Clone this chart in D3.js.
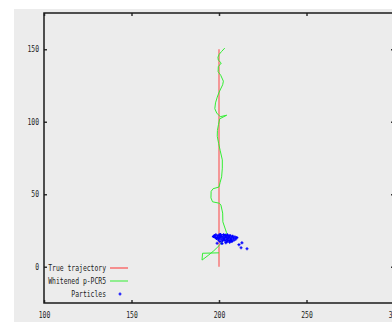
<!DOCTYPE html>
<html>
<head>
<meta charset="utf-8">
<script src="https://cdn.jsdelivr.net/npm/d3@7"></script>
<style>
  body { margin: 0; background: #fff; }
  svg { display: block; }
  text { font-family: "DejaVu Sans Mono", monospace; font-size: 8px; fill: #222; }
</style>
</head>
<body>
<svg id="chart"></svg>
<script>
var width = 392,
    height = 322;

// true trajectory
var trueX = [200, 200],
    trueY = [0, 150];

// whitened p-PCR5 estimate
var pcrX = [200, 190.6, 190.3, 193.8, 197, 200, 202.5, 204.3, 203.6, 202.2, 202.1, 201.1, 200.2, 196.3, 195.4,
            195.5, 196.6, 200, 200.6, 201.5, 201.9, 201.9, 200.7, 199.8, 199.0, 199.1, 199.7, 200.4, 204.4, 200.7,
            198.7, 197.6, 198, 199.0, 200.1, 202.1, 202.5, 201, 199.5, 199.6, 201.3, 199.6, 199.4, 200.1, 201.5, 203.3];
var pcrY = [9.6, 9.3, 4.6, 7.8, 11, 14.5, 18.5, 23.5, 26, 31, 37, 42.5, 43.8, 44.8, 47.5,
            52, 53.8, 55, 58, 62, 68, 73.7, 80, 85, 90, 94, 98, 102, 104.5, 103.5,
            106, 109, 113, 117, 120.5, 125.5, 128, 132, 134.5, 138, 140.5, 142.5, 144.5, 146.5, 148.5, 150.8];

// particles
var partX = [196.8, 197.3, 197.9, 198.2, 198.6, 199.0, 199.3, 199.7, 200.1, 200.4, 200.8, 201.2, 201.5, 201.9,
             202.2, 202.6, 203.0, 203.3, 203.7, 204.1, 204.4, 204.8, 205.2, 205.5, 205.9, 206.3, 206.6, 207.0,
             207.4, 207.8, 208.2, 208.6, 209.1, 209.6, 210.2, 198.9, 200.6, 201.7, 202.9, 203.9, 205.0, 206.1,
             207.2, 199.8, 201.0, 202.4, 203.5, 204.6, 205.7, 206.8, 211.4, 213.1, 212.6, 216.0, 200.3, 204.0];
var partY = [20.8, 21.5, 20.1, 22.0, 19.4, 21.2, 20.5, 18.6, 21.9, 20.0, 22.3, 19.1, 21.0, 17.8,
             20.6, 22.1, 19.8, 18.2, 21.4, 20.3, 17.2, 22.0, 19.5, 20.9, 18.0, 21.6, 19.0, 20.4,
             17.5, 21.1, 19.7, 18.4, 20.6, 19.2, 20.1, 16.2, 17.4, 16.0, 18.8, 16.6, 17.9, 16.9,
             18.6, 19.9, 20.7, 19.3, 21.8, 18.9, 20.2, 17.7, 15.2, 16.5, 13.1, 12.4, 21.7, 20.5];

var xTicks = [100, 150, 200, 250, 300],
    yTicks = [0, 50, 100, 150];

var legendNames = ["True trajectory", "Whitened p-PCR5", "Particles"],
    legendColors = ["#ff3030", "#33ee33", "#0000ff"];

var mLeft = 44, mRight = 394, mTop = 13, mBottom = 303;

var svg = d3.select("#chart").attr("width", width).attr("height", height);

svg.append("rect")
  .attr("x", 14).attr("y", 9)
  .attr("width", width - 14).attr("height", height - 9)
  .attr("fill", "#ececec");

var x = d3.scaleLinear().domain([100, 300]).range([mLeft, mRight]);
var y = d3.scaleLinear().domain([-25, 175]).range([mBottom, mTop]);

function fit(sel) {
  // squeeze glyphs to the narrow bitmap-like font of the original
  sel.each(function() {
    var t = d3.select(this);
    t.attr("textLength", t.text().length * 3.85).attr("lengthAdjust", "spacingAndGlyphs");
  });
}

// axes with inward ticks
var xb = svg.append("g").attr("transform", "translate(0," + mBottom + ")")
  .call(d3.axisBottom(x).tickValues(xTicks).tickSize(-3).tickPadding(9).tickFormat(d3.format("d")));
var xt = svg.append("g").attr("transform", "translate(0," + mTop + ")")
  .call(d3.axisTop(x).tickValues(xTicks).tickSize(-3).tickFormat(""));
var yl = svg.append("g").attr("transform", "translate(" + mLeft + ",0)")
  .call(d3.axisLeft(y).tickValues(yTicks).tickSize(-3).tickPadding(5).tickFormat(d3.format("d")));
var yr = svg.append("g").attr("transform", "translate(" + mRight + ",0)")
  .call(d3.axisRight(y).tickValues(yTicks).tickSize(-3).tickFormat(""));

[xb, xt, yl, yr].forEach(function(g) {
  g.select(".domain").remove();
  g.selectAll(".tick line").attr("stroke", "#333").attr("stroke-width", 1.5);
  g.selectAll(".tick text").attr("font-family", null).attr("font-size", null).attr("fill", "#222").call(fit);
});

svg.append("rect")
  .attr("x", mLeft).attr("y", mTop)
  .attr("width", mRight - mLeft).attr("height", mBottom - mTop)
  .attr("fill", "none").attr("stroke", "#1a1a1a").attr("stroke-width", 1.5);

var line = d3.line().x(function(d) { return x(d[0]); }).y(function(d) { return y(d[1]); });

svg.append("path")
  .datum(d3.zip(trueX, trueY))
  .attr("d", line)
  .attr("fill", "none").attr("stroke", legendColors[0]).attr("stroke-opacity", 0.6).attr("stroke-width", 1.5);

svg.append("path")
  .datum(d3.zip(pcrX, pcrY))
  .attr("d", line)
  .attr("fill", "none").attr("stroke", legendColors[1]).attr("stroke-width", 1);

var plus = "M-1.5,0H1.5M0,-1.5V1.5";

svg.append("g").selectAll("path")
  .data(d3.zip(partX, partY))
  .enter().append("path")
  .attr("transform", function(d) { return "translate(" + x(d[0]) + "," + y(d[1]) + ")"; })
  .attr("d", plus)
  .attr("stroke", legendColors[2]).attr("stroke-width", 1.2);

// legend
var lg = svg.append("g");
legendNames.forEach(function(name, i) {
  var ly = 268 + i * 13;
  lg.append("text").attr("x", 106).attr("y", ly + 3).attr("text-anchor", "end").text(name).call(fit);
  if (i < 2) {
    lg.append("line").attr("x1", 110).attr("x2", 128).attr("y1", ly).attr("y2", ly)
      .attr("stroke", legendColors[i]).attr("stroke-width", 1);
  } else {
    lg.append("path").attr("transform", "translate(120," + ly + ")").attr("d", plus)
      .attr("stroke", legendColors[i]).attr("stroke-width", 1.2);
  }
});
</script>
</body>
</html>
